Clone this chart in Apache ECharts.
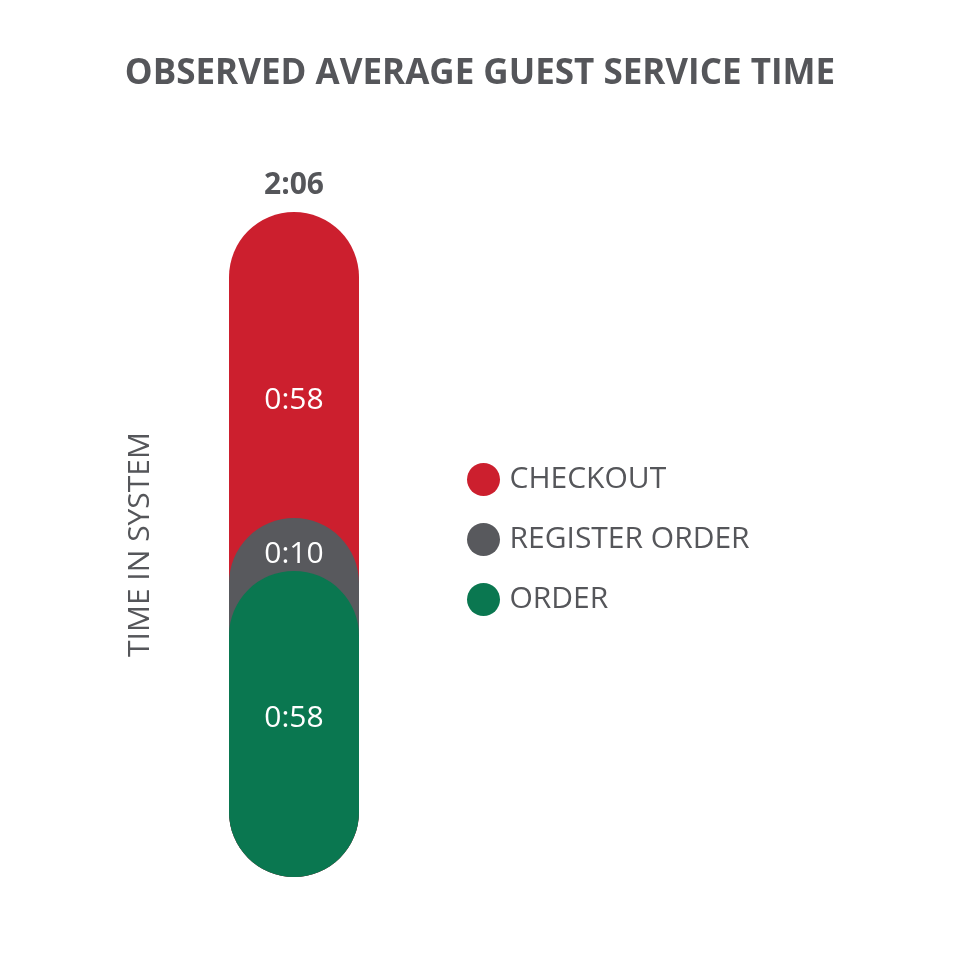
<!DOCTYPE html>
<html style="height: 100%">
  <head>
    <meta charset="utf-8" />
    <script src="https://cdn.jsdelivr.net/npm/echarts@6/dist/echarts.min.js"></script>
  </head>
  <body style="height: 100%; margin: 0; background: #fff">
    <div id="main" style="width: 960px; height: 960px"></div>
    <script type="text/javascript">
      // segment values in seconds
      let categories = ["Service"];
      let orderData = [58];
      let registerData = [10];
      let checkoutData = [58];
      let segmentLabels = ["0:58", "0:10", "0:58"]; // order, register, checkout
      let totalLabel = "2:06";

      const total = orderData[0] + registerData[0] + checkoutData[0];
      const textColor = "#55565a";
      const red = "#cc1f2e", gray = "#58595d", green = "#0a7750";
      const radius = 65;

      var myChart = echarts.init(document.getElementById("main"));

      // overlapping pills: each drawn from 0 up to its cumulative value
      function pill(name, value, color, z) {
        return {
          name: name,
          type: "bar",
          barWidth: "100%",
          barGap: "-100%",
          z: z,
          itemStyle: { color: color, borderRadius: radius },
          data: [value],
        };
      }

      var option = {
        title: {
          text: "OBSERVED AVERAGE GUEST SERVICE TIME",
          left: "center",
          top: 52,
          textStyle: { color: textColor, fontSize: 35, fontWeight: "bold", fontFamily: "Open Sans" },
        },
        legend: {
          orient: "vertical",
          left: 462,
          top: 458,
          itemGap: 27,
          itemWidth: 34,
          itemHeight: 33,
          icon: "circle",
          data: ["CHECKOUT", "REGISTER ORDER", "ORDER"],
          textStyle: { color: textColor, fontSize: 30, fontFamily: "Open Sans", padding: [0, 0, 0, 4] },
        },
        grid: { left: 229, width: 130, top: 212, bottom: 83 },
        xAxis: {
          type: "category",
          data: categories,
          show: false,
        },
        yAxis: {
          type: "value",
          min: 0,
          max: total,
          name: "TIME IN SYSTEM",
          nameLocation: "middle",
          nameGap: 74,
          nameTextStyle: { color: textColor, fontSize: 30, fontFamily: "Open Sans" },
          axisLine: { show: false },
          axisTick: { show: false },
          axisLabel: { show: false },
          splitLine: { show: false },
        },
        series: [
          Object.assign(pill("CHECKOUT", total, red, 1), {
            label: {
              show: true,
              position: "top",
              distance: 12,
              formatter: totalLabel,
              color: textColor,
              fontSize: 30,
              fontWeight: "bold",
              fontFamily: "Open Sans",
            },
          }),
          pill("REGISTER ORDER", orderData[0] + registerData[0], gray, 2),
          pill("ORDER", orderData[0], green, 3),
          // invisible stack carrying the segment labels
          {
            type: "bar", stack: "lbl", barWidth: "100%", barGap: "-100%", z: 5,
            itemStyle: { color: "transparent" }, silent: true,
            label: { show: true, position: "inside", color: "#fff", fontSize: 30, fontFamily: "Open Sans", formatter: segmentLabels[0], offset: [0, -5] },
            data: orderData,
          },
          {
            type: "bar", stack: "lbl", barWidth: "100%", barGap: "-100%", z: 5,
            itemStyle: { color: "transparent" }, silent: true,
            label: { show: true, position: "inside", color: "#fff", fontSize: 30, fontFamily: "Open Sans", formatter: segmentLabels[1], offset: [0, 10] },
            data: registerData,
          },
          {
            type: "bar", stack: "lbl", barWidth: "100%", barGap: "-100%", z: 5,
            itemStyle: { color: "transparent" }, silent: true,
            label: { show: true, position: "inside", color: "#fff", fontSize: 30, fontFamily: "Open Sans", formatter: segmentLabels[2], offset: [0, 35] },
            data: checkoutData,
          },
        ],
      };

      myChart.setOption(option);
    </script>
  </body>
</html>
